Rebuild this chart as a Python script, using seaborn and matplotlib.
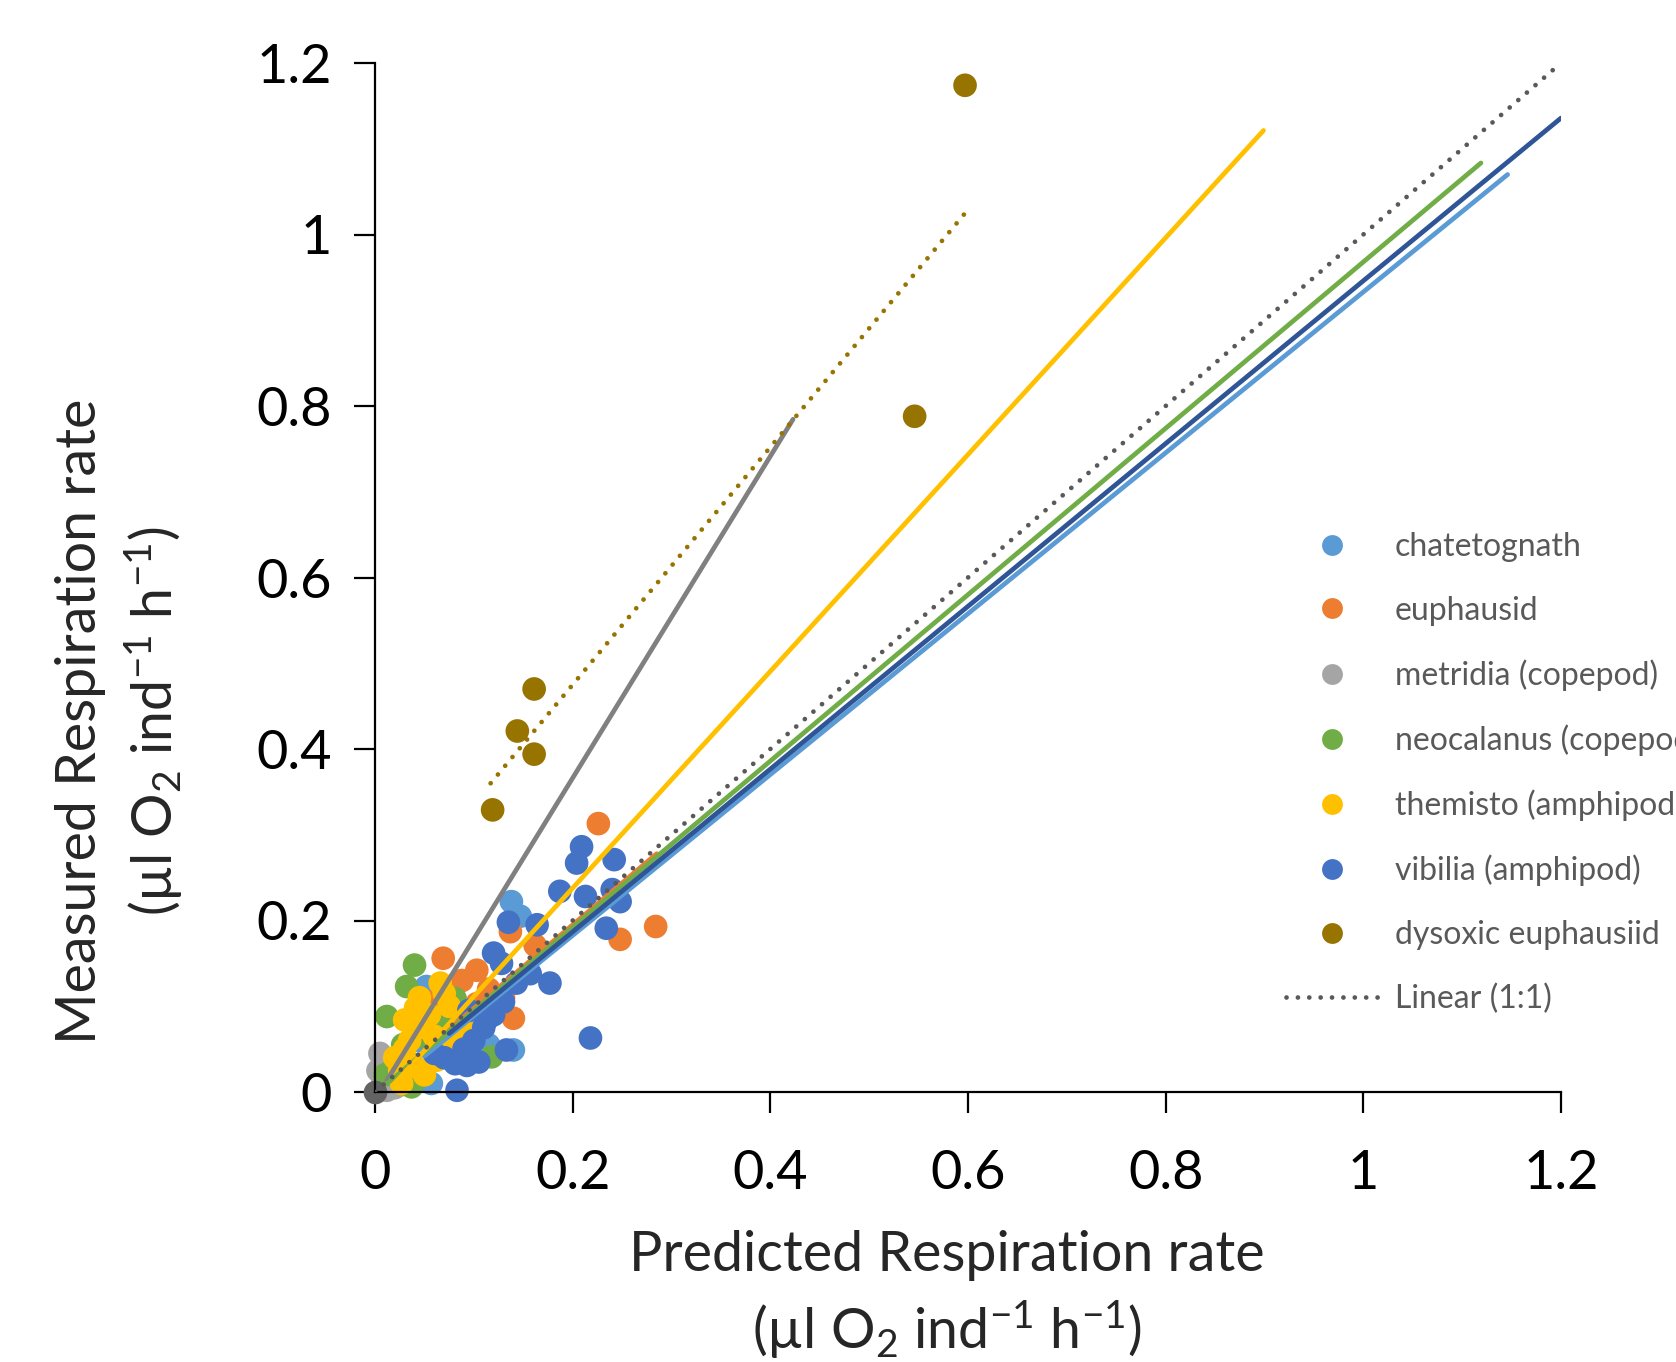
import matplotlib
matplotlib.use("Agg")
import matplotlib.pyplot as plt
import seaborn as sns
import pandas as pd
import numpy as np
from matplotlib.lines import Line2D

# ---------------- data ----------------
species = ["chatetognath", "euphausid", "metridia (copepod)", "neocalanus (copepod)",
           "themisto (amphipod)", "vibilia (amphipod)", "dysoxic euphausiid"]
colors = ["#5B9BD5", "#ED7D31", "#A5A5A5", "#70AD47", "#FFC000", "#4472C4", "#977300"]

chaet_x = [0.138, 0.147, 0.052, 0.057, 0.140, 0.045, 0.070, 0.100, 0.030, 0.085, 0.115]
chaet_y = [0.222, 0.205, 0.123, 0.010, 0.049, 0.060, 0.080, 0.065, 0.040, 0.095, 0.055]

euph_x = [0.226, 0.284, 0.248, 0.137, 0.162, 0.103, 0.069, 0.081, 0.103, 0.140, 0.130, 0.115, 0.095, 0.058, 0.088]
euph_y = [0.313, 0.193, 0.178, 0.187, 0.171, 0.142, 0.156, 0.125, 0.103, 0.086, 0.110, 0.120, 0.090, 0.105, 0.130]

metr_x = [0.005, 0.003, 0.010, 0.015, 0.020, 0.012, 0.025, 0.008]
metr_y = [0.045, 0.025, 0.030, 0.010, 0.005, 0.002, 0.008, 0.015]

neoc_x = [0.012, 0.032, 0.040, 0.081, 0.037, 0.118, 0.020, 0.060, 0.050, 0.090, 0.045, 0.010, 0.070, 0.028]
neoc_y = [0.088, 0.123, 0.148, 0.109, 0.006, 0.041, 0.030, 0.050, 0.020, 0.070, 0.065, 0.020, 0.085, 0.055]

them_x = [0.066, 0.030, 0.041, 0.050, 0.062, 0.027, 0.035, 0.045, 0.055, 0.075, 0.085, 0.020,
          0.040, 0.060, 0.070, 0.100, 0.030, 0.050, 0.080, 0.025]
them_y = [0.127, 0.084, 0.098, 0.075, 0.037, 0.010, 0.060, 0.110, 0.090, 0.100, 0.070, 0.040,
          0.030, 0.065, 0.115, 0.085, 0.050, 0.020, 0.055, 0.025]

vib_x = [0.209, 0.204, 0.242, 0.187, 0.213, 0.240, 0.248, 0.234, 0.135, 0.164, 0.120, 0.128,
         0.157, 0.177, 0.143, 0.130, 0.113, 0.218, 0.083, 0.081, 0.093, 0.133, 0.100, 0.110,
         0.090, 0.070, 0.120, 0.105, 0.060, 0.095]
vib_y = [0.286, 0.267, 0.271, 0.234, 0.228, 0.236, 0.222, 0.191, 0.198, 0.195, 0.162, 0.150,
         0.138, 0.127, 0.127, 0.105, 0.084, 0.063, 0.002, 0.033, 0.031, 0.049, 0.060, 0.075,
         0.050, 0.040, 0.090, 0.035, 0.045, 0.095]

dys_x = [0.597, 0.546, 0.161, 0.144, 0.161, 0.119]
dys_y = [1.174, 0.788, 0.470, 0.421, 0.394, 0.329]

origin_x = [0.0]
origin_y = [0.0]

# trendlines: start x, end x, slope, intercept
fit_x0 = [0.050, 0.050, 0.012, 0.012, 0.020, 0.075, 0.117]
fit_x1 = [1.146, 0.285, 0.423, 1.119, 0.899, 1.200, 0.599]
fit_slope = [0.938, 0.975, 1.876, 0.970, 1.264, 0.949, 1.385]
fit_icpt = [-0.005, 0.000, -0.009, -0.002, -0.015, -0.003, 0.198]
fit_colors = ["#5B9BD5", "#ED7D31", "#808080", "#70AD47", "#FFC000", "#2F5597", "#977300"]

ticks = [0, 0.2, 0.4, 0.6, 0.8, 1.0, 1.2]
tick_labels = ["0", "0.2", "0.4", "0.6", "0.8", "1", "1.2"]

# ---------------- build frame ----------------
xs = [chaet_x, euph_x, metr_x, neoc_x, them_x, vib_x, dys_x]
ys = [chaet_y, euph_y, metr_y, neoc_y, them_y, vib_y, dys_y]
frames = [pd.DataFrame({"pred": x, "meas": y, "species": s}) for x, y, s in zip(xs, ys, species)]
df = pd.concat(frames, ignore_index=True)

# ---------------- style ----------------
sns.set_theme(style="white")
plt.rcParams["font.family"] = ["Lato", "DejaVu Sans"]
plt.rcParams["mathtext.default"] = "regular"

fig = plt.figure(figsize=(16.76, 13.62), dpi=100)
ax = fig.add_axes([375 / 1676, 1 - 1092 / 1362, 1186 / 1676, 1029 / 1362])

MS = 290
sns.scatterplot(data=df, x="pred", y="meas", hue="species", hue_order=species,
                palette=dict(zip(species, colors)), s=MS, linewidth=0, ax=ax,
                legend=False, zorder=2)
ax.scatter(origin_x, origin_y, s=MS, color="#636363", linewidth=0, zorder=2, clip_on=False)
for c in ax.collections:
    c.set_clip_on(False)

LW = 3.4
DOT = (0, (0.01, 2.4))
for i in range(6):
    lx = np.array([fit_x0[i], fit_x1[i]])
    ax.plot(lx, fit_slope[i] * lx + fit_icpt[i], color=fit_colors[i], lw=LW,
            solid_capstyle="round", zorder=3)
# 1:1 line
ax.plot([0, 1.2], [0, 1.2], color="#595959", lw=LW, linestyle=DOT,
        dash_capstyle="round", zorder=4)
# dysoxic trend
lx = np.array([fit_x0[6], fit_x1[6]])
ax.plot(lx, fit_slope[6] * lx + fit_icpt[6], color=fit_colors[6], lw=LW,
        linestyle=DOT, dash_capstyle="round", zorder=4)

ax.set_xlim(0, 1.2)
ax.set_ylim(0, 1.2)
ax.set_xticks(ticks)
ax.set_xticklabels(tick_labels)
ax.set_yticks(ticks)
ax.set_yticklabels(tick_labels)
for side in ["top", "right"]:
    ax.spines[side].set_visible(False)
for side in ["left", "bottom"]:
    ax.spines[side].set_color("black")
    ax.spines[side].set_linewidth(1.6)
ax.tick_params(axis="both", direction="out", length=15, width=1.6, color="black",
               labelsize=39, labelcolor="black", left=True, bottom=True)
ax.tick_params(axis="y", pad=16)
ax.tick_params(axis="x", pad=26)

ax.set_xlabel("Predicted Respiration rate\n(µl O$_2$ ind$^{-1}$ h$^{-1}$)", fontsize=40,
              linespacing=1.35)
ax.xaxis.set_label_coords(0.482, -0.198)
ax.xaxis.label.set_va("center")
ax.set_ylabel("Measured Respiration rate\n(µl O$_2$ ind$^{-1}$ h$^{-1}$)", fontsize=40,
              linespacing=1.35)
ax.yaxis.set_label_coords(-0.215, 0.3606)
ax.yaxis.label.set_va("center")

# legend
handles = [Line2D([0], [0], marker="o", linestyle="none", markersize=15,
                  markerfacecolor=c, markeredgewidth=0) for c in colors]
handles.append(Line2D([0], [0], color="#595959", lw=LW, linestyle=DOT,
                      dash_capstyle="round"))
labels = species + ["Linear (1:1)"]
leg = fig.legend(handles, labels, loc="upper left", bbox_to_anchor=(1286 / 1676, 1 - 532 / 1362),
                 frameon=False, fontsize=23, handlelength=2.9, handletextpad=0.5,
                 labelspacing=1.05, borderpad=0, borderaxespad=0)
for t in leg.get_texts():
    t.set_color("#595959")

fig.savefig("out.png", dpi=100)
